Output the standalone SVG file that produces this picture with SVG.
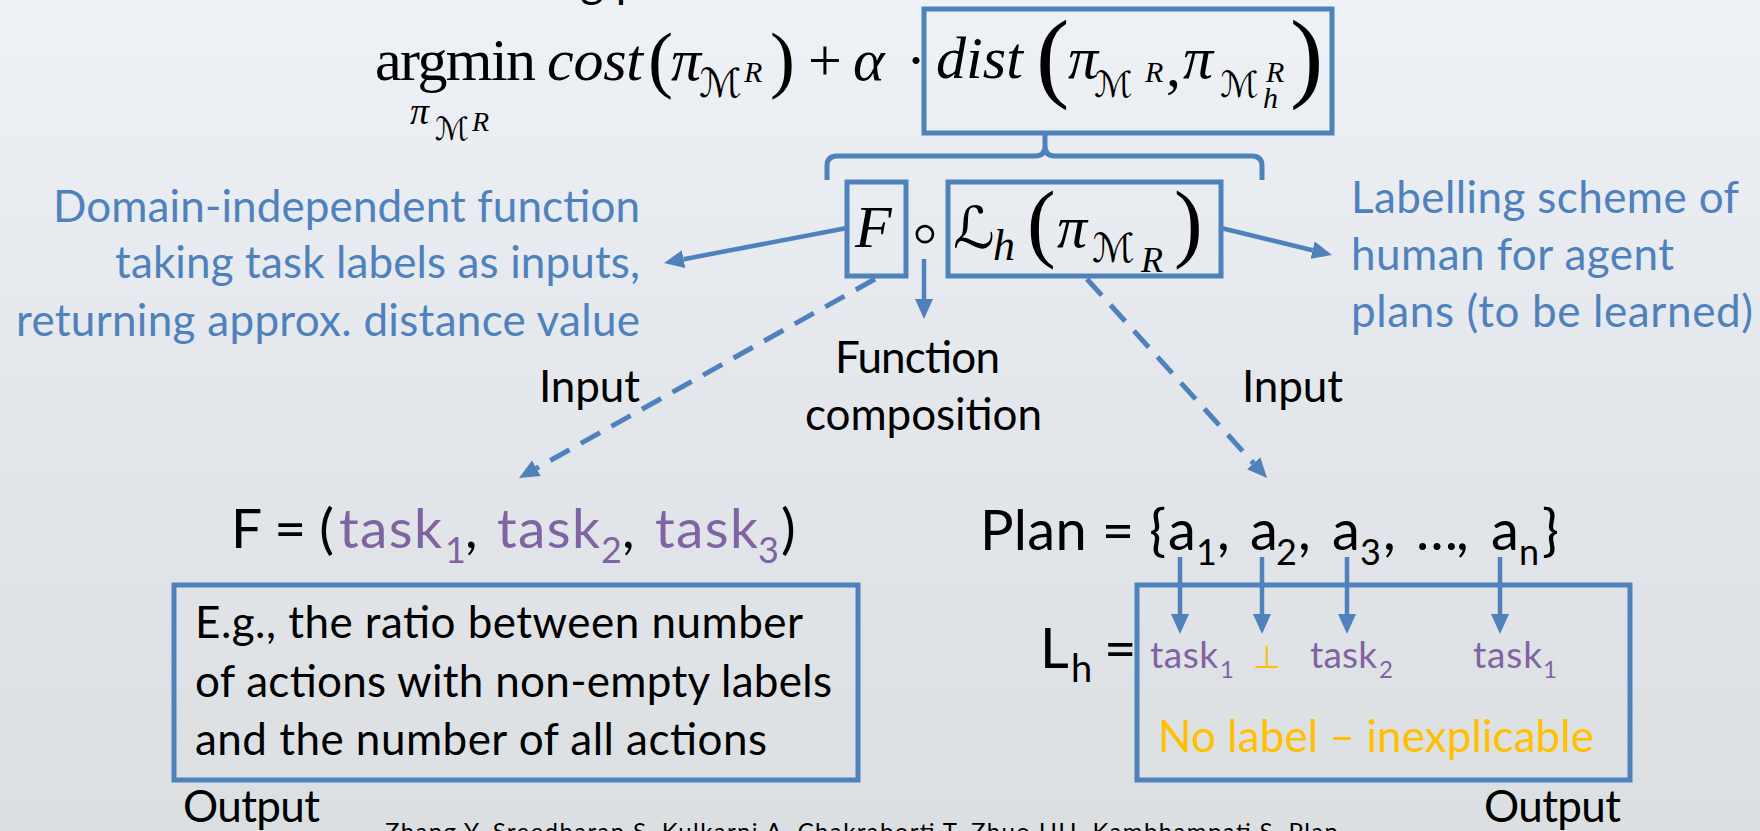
<svg xmlns="http://www.w3.org/2000/svg" width="1760" height="831" viewBox="0 0 1760 831">
<defs>
<linearGradient id="bg" x1="0" y1="0" x2="0" y2="1">
<stop offset="0" stop-color="#eef1f5"/>
<stop offset="0.5" stop-color="#e3e6ea"/>
<stop offset="1" stop-color="#dcdfe2"/>
</linearGradient>
<marker id="ah" markerUnits="userSpaceOnUse" markerWidth="20" markerHeight="18" refX="0" refY="9" orient="auto" viewBox="0 0 20 18">
<path d="M0,0 L20,9 L0,18 z" fill="#4f81bd"/>
</marker>
<style>
.cal{font-family:Lato,"Open Sans","Liberation Sans",sans-serif}
.math{font-family:"Liberation Serif","DejaVu Serif",serif}
.it{font-style:italic}
.scr{font-family:"DejaVu Serif","DejaVu Sans",serif}
.sym{font-family:"DejaVu Sans",sans-serif}
.blue{fill:#4f81bd}
.purple{fill:#8064a2}
.gold{fill:#ffc000}
.blk{fill:#000}
.box{fill:none;stroke:#4f81bd;stroke-width:5}
.conn{fill:none;stroke:#4f81bd;stroke-width:4.5;marker-end:url(#ah)}
.dash{stroke-width:5;stroke-dasharray:22 13}
</style>
</defs>
<rect x="0" y="0" width="1760" height="831" fill="url(#bg)"/>

<g id="heading">
<text class="cal blk" x="62" y="-3" font-size="45" textLength="705">Can be used in the learning process</text>
</g>

<g id="objective" class="math blk">
<text x="375" y="80" font-size="60" textLength="161">argmin</text>
<text class="it" x="410" y="124" font-size="38">π</text>
<text class="scr" x="435" y="140" font-size="32">ℳ</text>
<text class="it" x="472" y="131" font-size="28">R</text>
<text class="it" x="547" y="80" font-size="60" textLength="96">cost</text>
<text x="648" y="84" font-size="75">(</text>
<text class="it" x="671" y="80" font-size="60">π</text>
<text class="scr" x="699" y="97" font-size="40">ℳ</text>
<text class="it" x="744" y="82" font-size="30">R</text>
<text x="770" y="84" font-size="75">)</text>
<text x="808" y="80" font-size="60">+</text>
<text class="it" x="853" y="80" font-size="60">α</text>
<text x="906" y="80" font-size="60">·</text>
</g>

<g id="dist-box">
<rect class="box" x="924" y="9" width="408" height="124"/>
<g class="math blk">
<text class="it" x="936" y="78" font-size="60" textLength="87">dist</text>
<text x="1036" y="89" font-size="100">(</text>
<text class="it" x="1068" y="78" font-size="60">π</text>
<text class="scr" x="1094" y="97" font-size="36">ℳ</text>
<text class="it" x="1145" y="82" font-size="30">R</text>
<text x="1166" y="86" font-size="60">,</text>
<text class="it" x="1183" y="78" font-size="60">π</text>
<text class="scr" x="1220" y="97" font-size="36">ℳ</text>
<text class="it" x="1266" y="82" font-size="30">R</text>
<text class="it" x="1263" y="108" font-size="30">h</text>
<text x="1290" y="89" font-size="100">)</text>
</g>
</g>

<g id="brace">
<path d="M827 180 L827 166 Q827 156 837 156 L1035 156 Q1045 156 1045 146 L1045 133 M1045 146 Q1045 156 1055 156 L1252 156 Q1262 156 1262 166 L1262 180" fill="none" stroke="#4f81bd" stroke-width="5"/>
</g>

<g id="f-box">
<rect class="box" x="847" y="182" width="59" height="94"/>
<text class="math it blk" x="855" y="247" font-size="60">F</text>
</g>

<g id="compose-op">
<text class="sym blk" x="925" y="256" font-size="70" font-weight="200" text-anchor="middle">∘</text>
</g>

<g id="l-box">
<rect class="box" x="948" y="182" width="273" height="94"/>
<g class="math blk">
<text class="scr" x="953" y="248" font-size="58">ℒ</text>
<text class="it" x="993" y="260" font-size="44">h</text>
<text x="1027" y="251" font-size="86">(</text>
<text class="it" x="1057" y="247" font-size="60">π</text>
<text class="scr" x="1092" y="262" font-size="40">ℳ</text>
<text class="it" x="1141" y="272" font-size="36">R</text>
<text x="1174" y="251" font-size="86">)</text>
</g>
</g>

<g id="left-desc" class="cal blue" font-size="44" text-anchor="end">
<text x="640" y="222" textLength="587">Domain-independent function</text>
<text x="640" y="278" textLength="525">taking task labels as inputs,</text>
<text x="640" y="336" textLength="624">returning approx. distance value</text>
</g>

<g id="right-desc" class="cal blue" font-size="44">
<text x="1351" y="213" textLength="388">Labelling scheme of</text>
<text x="1351" y="270" textLength="323">human for agent</text>
<text x="1351" y="327" textLength="402">plans (to be learned)</text>
</g>

<g id="input-left"><text class="cal blk" x="539" y="402" font-size="44" textLength="101">Input</text></g>
<g id="input-right"><text class="cal blk" x="1242" y="402" font-size="44" textLength="101">Input</text></g>
<g id="func-comp" class="cal blk" font-size="44">
<text x="835" y="373" textLength="165">Function</text>
<text x="805" y="430" textLength="237">composition</text>
</g>

<g id="f-def" class="cal" font-size="55">
<text class="blk" x="231" y="548" textLength="103">F = (</text>
<text class="purple" x="339" y="548" textLength="103">task</text>
<text class="purple" x="445" y="563" font-size="36">1</text>
<text class="blk" x="465" y="548">,</text>
<text class="purple" x="497" y="548" textLength="103">task</text>
<text class="purple" x="601" y="563" font-size="36">2</text>
<text class="blk" x="622" y="548">,</text>
<text class="purple" x="655" y="548" textLength="103">task</text>
<text class="purple" x="758" y="563" font-size="36">3</text>
<text class="blk" x="781" y="548">)</text>
</g>

<g id="f-example">
<rect class="box" x="174" y="585" width="684" height="195"/>
<g class="cal blk" font-size="44">
<text x="195" y="638" textLength="608">E.g., the ratio between number</text>
<text x="195" y="697" textLength="637">of actions with non-empty labels</text>
<text x="195" y="755" textLength="572">and the number of all actions</text>
</g>
</g>

<g id="plan-def" class="cal blk" font-size="56">
<text x="980" y="550" textLength="186">Plan = {</text>
<text x="1168" y="550">a</text>
<text x="1196" y="565" font-size="36">1</text>
<text x="1217" y="550">,</text>
<text x="1250" y="550">a</text>
<text x="1276" y="565" font-size="36">2</text>
<text x="1298" y="550">,</text>
<text x="1332" y="550">a</text>
<text x="1360" y="565" font-size="36">3</text>
<text x="1383" y="550">,</text>
<text x="1416" y="550" textLength="38">…</text>
<text x="1456" y="550">,</text>
<text x="1491" y="550">a</text>
<text x="1519" y="565" font-size="36">n</text>
<text x="1542" y="550">}</text>
</g>

<g id="lh-box">
<rect class="box" x="1137" y="585" width="493" height="195"/>
<g class="cal blk" font-size="56">
<text x="1040" y="668">L</text>
<text x="1071" y="682" font-size="38">h</text>
<text x="1104" y="668">=</text>
</g>
<g class="cal purple" font-size="37">
<text x="1150" y="668" textLength="68">task</text>
<text x="1220" y="678" font-size="24">1</text>
<text x="1310" y="668" textLength="67">task</text>
<text x="1379" y="678" font-size="24">2</text>
<text x="1473" y="668" textLength="69">task</text>
<text x="1543" y="678" font-size="24">1</text>
</g>
<text class="sym gold" x="1253" y="668" font-size="32">⊥</text>
<text class="cal gold" x="1158" y="752" font-size="44" textLength="436">No label – inexplicable</text>
</g>

<g id="outputs" class="cal blk" font-size="44">
<text x="183" y="822" textLength="137">Output</text>
<text x="1484" y="822" textLength="137">Output</text>
</g>

<g id="citation">
<text class="cal blk" x="385" y="840" font-size="24" textLength="953">Zhang Y, Sreedharan S, Kulkarni A, Chakraborti T, Zhuo HH, Kambhampati S. Plan</text>
</g>

<g id="connectors">
<line class="conn" x1="847" y1="228" x2="683.6" y2="259.2"/>
<line class="conn" x1="1221" y1="228" x2="1312.6" y2="250.2"/>
<line class="conn" x1="924" y1="259" x2="924" y2="299"/>
<line class="conn dash" x1="875" y1="279" x2="536.5" y2="468.2"/>
<line class="conn dash" x1="1087" y1="279" x2="1253.6" y2="463.2"/>
<line class="conn" x1="1180" y1="557" x2="1180" y2="614"/>
<line class="conn" x1="1262" y1="557" x2="1262" y2="614"/>
<line class="conn" x1="1347" y1="557" x2="1347" y2="614"/>
<line class="conn" x1="1500" y1="557" x2="1500" y2="614"/>
</g>
</svg>
